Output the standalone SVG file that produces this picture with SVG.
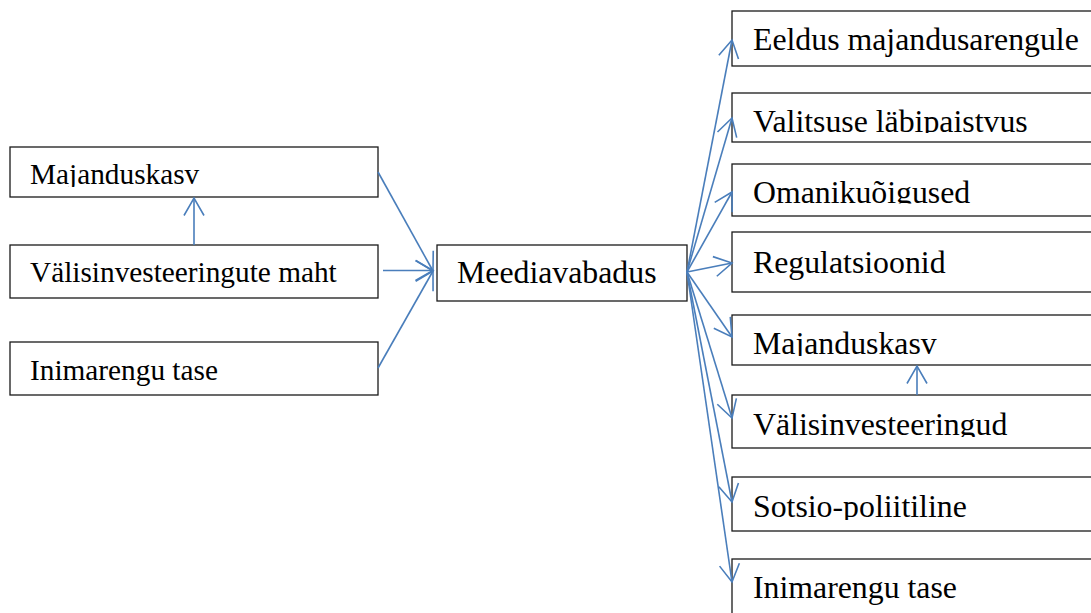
<svg xmlns="http://www.w3.org/2000/svg" width="1091" height="613" viewBox="0 0 1091 613">
<style>
.box{fill:#fff;stroke:#1a1a1a;stroke-width:1.3}
.tl{font-family:"Liberation Serif","Times New Roman",serif;font-size:29.3px;fill:#000}
.tr{font-family:"Liberation Serif","Times New Roman",serif;font-size:31.8px;fill:#000}
.c{stroke:#4a7ebb;stroke-width:1.6;fill:none}
</style>
<defs>
<marker id="ah" viewBox="0 0 20 22" refX="18" refY="11" markerWidth="20" markerHeight="22" markerUnits="userSpaceOnUse" orient="auto" overflow="visible">
<path d="M0.5,1 L18,11 L0.5,21" fill="none" stroke="#4a7ebb" stroke-width="1.6"/>
</marker>
<clipPath id="k1"><rect x="10" y="147" width="368" height="40"/></clipPath>
<clipPath id="k2"><rect x="732" y="93" width="400" height="40"/></clipPath>
<clipPath id="k3"><rect x="732" y="164" width="400" height="39.5"/></clipPath>
<clipPath id="k4"><rect x="732" y="315" width="400" height="41"/></clipPath>
<clipPath id="k5"><rect x="732" y="395" width="400" height="42"/></clipPath>
<clipPath id="k6"><rect x="732" y="477" width="400" height="43"/></clipPath>
</defs>
<rect width="1091" height="613" fill="#fff"/>
<g id="n-majanduskasv-l"><rect class="box" x="10" y="147" width="368" height="50"/><text class="tl" x="30" y="183.5" clip-path="url(#k1)">Majanduskasv</text></g>
<g id="n-valisinv-l"><rect class="box" x="10" y="245" width="368" height="53"/><text class="tl" x="30" y="281.5">Välisinvesteeringute maht</text></g>
<g id="n-inimarengu-l"><rect class="box" x="10" y="342" width="368" height="53"/><text class="tl" x="30" y="380">Inimarengu tase</text></g>
<g id="n-meedia"><rect class="box" x="437" y="245" width="250" height="56"/><text class="tr" x="457" y="283">Meediavabadus</text></g>
<g id="n-eeldus"><rect class="box" x="732" y="11" width="400" height="55"/><text class="tr" x="753" y="50">Eeldus majandusarengule</text></g>
<g id="n-valitsuse"><rect class="box" x="732" y="93" width="400" height="49"/><text class="tr" x="753" y="131.7" clip-path="url(#k2)">Valitsuse läbipaistvus</text></g>
<g id="n-omaniku"><rect class="box" x="732" y="164" width="400" height="52"/><text class="tr" x="753" y="203.3" clip-path="url(#k3)">Omanikuõigused</text></g>
<g id="n-regul"><rect class="box" x="732" y="232" width="400" height="60"/><text class="tr" x="753" y="272.7">Regulatsioonid</text></g>
<g id="n-majanduskasv-r"><rect class="box" x="732" y="315" width="400" height="50"/><text class="tr" x="753" y="354" clip-path="url(#k4)">Majanduskasv</text></g>
<g id="n-valisinv-r"><rect class="box" x="732" y="395" width="400" height="53"/><text class="tr" x="753" y="435" clip-path="url(#k5)">Välisinvesteeringud</text></g>
<g id="n-sotsio"><rect class="box" x="732" y="477" width="400" height="54"/><text class="tr" x="753" y="516.7" clip-path="url(#k6)">Sotsio-poliitiline</text></g>
<g id="n-inimarengu-r"><rect class="box" x="732" y="559" width="400" height="80"/><text class="tr" x="753" y="598">Inimarengu tase</text></g>
<g id="connectors">
<line class="c" x1="194" y1="245" x2="194" y2="198" marker-end="url(#ah)"/>
<line class="c" x1="378" y1="172" x2="433" y2="271" marker-end="url(#ah)"/>
<line class="c" x1="383" y1="270.5" x2="433" y2="270.5" marker-end="url(#ah)"/>
<line class="c" x1="378" y1="368" x2="433" y2="271" marker-end="url(#ah)"/>
<line class="c" x1="687" y1="272" x2="732" y2="40" marker-end="url(#ah)"/>
<line class="c" x1="687" y1="272" x2="732" y2="118" marker-end="url(#ah)"/>
<line class="c" x1="687" y1="272" x2="732" y2="192" marker-end="url(#ah)"/>
<line class="c" x1="687" y1="272" x2="732" y2="263" marker-end="url(#ah)"/>
<line class="c" x1="687" y1="272" x2="732" y2="337" marker-end="url(#ah)"/>
<line class="c" x1="687" y1="272" x2="732" y2="418" marker-end="url(#ah)"/>
<line class="c" x1="687" y1="272" x2="732" y2="502" marker-end="url(#ah)"/>
<line class="c" x1="687" y1="272" x2="732" y2="582" marker-end="url(#ah)"/>
<line class="c" x1="917" y1="395" x2="917" y2="366" marker-end="url(#ah)"/>
</g>
</svg>
